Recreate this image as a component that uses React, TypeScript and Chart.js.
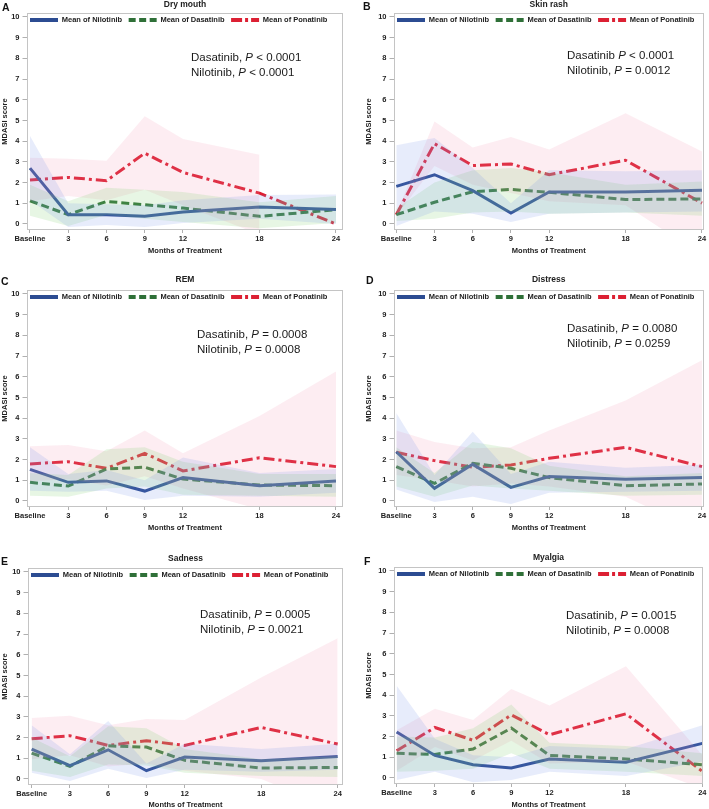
import React, { useEffect, useRef } from 'react';
import { Chart, registerables } from 'chart.js';

Chart.register(...registerables);
Chart.defaults.font.family = '"Liberation Sans", Arial, Helvetica, sans-serif';

// ---------- shared axes / labels ----------
const months = [0, 3, 6, 9, 12, 18, 24];
const xTickLabels = ['Baseline', '3', '6', '9', '12', '18', '24'];
const yTickValues = [0, 1, 2, 3, 4, 5, 6, 7, 8, 9, 10];
const seriesNames = ['Mean of Nilotinib', 'Mean of Dasatinib', 'Mean of Ponatinib'];
const xAxisTitle = 'Months of Treatment';
const yAxisTitle = 'MDASI score';

// ---------- A: Dry mouth ----------
const dryNil = [2.7, 0.45, 0.45, 0.37, 0.58, 0.82, 0.7];
const dryNilUpper = [4.25, 1.0, 0.95, 0.9, 1.15, 1.4, 1.42];
const dryNilLower = [1.15, -0.15, -0.05, -0.15, 0.05, 0.25, 0.0];
const dryDas = [1.12, 0.45, 1.09, 0.93, 0.77, 0.37, 0.69];
const dryDasUpper = [1.9, 1.1, 1.75, 1.65, 1.55, 1.05, 1.35];
const dryDasLower = [0.4, -0.1, 0.45, 0.25, 0.1, -0.2, 0.05];
const dryPon = [2.13, 2.25, 2.09, 3.42, 2.49, 1.49, 0.0];
const dryPonUpper = [3.2, 3.15, 3.05, 5.2, 4.1, 3.35, null];
const dryPonLower = [1.1, 1.35, 1.15, 1.65, 0.9, -0.5, null];

// ---------- B: Skin rash ----------
const skinNil = [1.82, 2.38, 1.61, 0.53, 1.55, 1.55, 1.63];
const skinNilUpper = [3.8, 4.15, 2.7, 1.0, 2.6, 2.55, 2.6];
const skinNilLower = [-0.1, 0.6, 0.5, 0.1, 0.5, 0.55, 0.6];
const skinDas = [0.45, 1.05, 1.56, 1.67, 1.53, 1.18, 1.21];
const skinDasUpper = [0.75, 2.0, 2.6, 2.7, 2.5, 1.9, 2.05];
const skinDasLower = [0.15, 0.25, 0.55, 0.6, 0.5, 0.55, 0.4];
const skinPon = [0.45, 3.88, 2.82, 2.9, 2.38, 3.08, 1.01];
const skinPonUpper = [0.5, 4.95, 3.7, 4.2, 3.6, 5.35, 3.5];
const skinPonLower = [0.4, 2.8, 1.9, 1.5, 1.1, 0.9, -1.5];

// ---------- C: REM ----------
const remNil = [1.53, 0.9, 0.97, 0.48, 1.13, 0.74, 0.97];
const remNilUpper = [2.6, 1.3, 1.5, 1.0, 2.1, 1.35, 1.55];
const remNilLower = [0.5, 0.45, 0.5, 0.05, 0.25, 0.2, 0.4];
const remDas = [0.9, 0.72, 1.55, 1.63, 1.06, 0.77, 0.74];
const remDasUpper = [1.35, 1.25, 2.5, 2.6, 1.9, 1.3, 1.3];
const remDasLower = [0.25, 0.2, 0.6, 0.7, 0.3, 0.25, 0.2];
const remPon = [1.79, 1.9, 1.58, 2.3, 1.45, 2.09, 1.66];
const remPonUpper = [2.65, 2.7, 2.4, 3.4, 2.3, 4.1, 6.25];
const remPonLower = [0.95, 1.05, 0.75, 1.2, 0.6, -0.4, -0.8];

// ---------- D: Distress ----------
const disNil = [2.38, 0.61, 1.77, 0.66, 1.18, 1.05, 1.13];
const disNilUpper = [4.25, 1.25, 3.35, 1.3, 1.9, 1.6, 1.75];
const disNilLower = [0.55, -0.05, 0.2, -0.15, 0.4, 0.45, 0.5];
const disDas = [1.66, 0.85, 1.82, 1.58, 1.13, 0.74, 0.82];
const disDasUpper = [2.6, 1.35, 2.85, 2.55, 1.7, 1.2, 1.35];
const disDasLower = [0.7, 0.2, 0.75, 0.6, 0.5, 0.25, 0.3];
const disPon = [2.35, 1.95, 1.63, 1.74, 2.06, 2.59, 1.66];
const disPonUpper = [3.4, 2.85, 2.55, 2.6, 3.4, 4.85, 6.8];
const disPonLower = [1.25, 1.0, 0.7, 0.85, 0.7, 0.2, -1.5];

// ---------- E: Sadness ----------
const sadNil = [1.44, 0.64, 1.41, 0.4, 1.06, 0.88, 1.09];
const sadNilUpper = [2.6, 1.2, 2.8, 0.75, 1.7, 1.45, 1.7];
const sadNilLower = [0.3, -0.1, 0.5, 0.05, 0.45, 0.35, 0.45];
const sadDas = [1.25, 0.61, 1.6, 1.54, 0.9, 0.53, 0.56];
const sadDasUpper = [2.0, 1.1, 2.55, 2.45, 1.45, 0.95, 1.1];
const sadDasLower = [0.4, 0.1, 0.7, 0.65, 0.3, 0.15, 0.1];
const sadPon = [1.94, 2.09, 1.62, 1.85, 1.62, 2.49, 1.69];
const sadPonUpper = [2.95, 3.05, 2.6, 2.9, 2.85, 4.9, 6.8];
const sadPonLower = [0.95, 1.15, 0.6, 0.75, 0.4, 0.0, -1.5];

// ---------- F: Myalgia ----------
const myaNil = [2.22, 1.09, 0.64, 0.48, 0.92, 0.76, 1.67];
const myaNilUpper = [4.45, 1.9, 1.1, 1.0, 1.55, 1.4, 2.55];
const myaNilLower = [-0.1, 0.3, -0.2, -0.1, 0.3, 0.1, 0.8];
const myaDas = [1.19, 1.14, 1.4, 2.41, 1.09, 0.92, 0.64];
const myaDasUpper = [2.0, 1.95, 2.4, 3.55, 1.7, 1.55, 1.2];
const myaDasLower = [0.3, 0.35, 0.45, 1.2, 0.45, 0.3, 0.1];
const myaPon = [1.32, 2.44, 1.82, 3.05, 2.09, 3.1, 0.32];
const myaPonUpper = [2.3, 3.35, 2.8, 4.3, 3.5, 5.4, 1.1];
const myaPonLower = [0.35, 1.5, 0.85, 1.8, 0.7, 0.8, -0.5];

// ---------- panel texts ----------
const panelLetters = ['A', 'B', 'C', 'D', 'E', 'F'];
const panelTitles = ['Dry mouth', 'Skin rash', 'REM', 'Distress', 'Sadness', 'Myalgia'];
const dasatinibLabels = ['Dasatinib, ', 'Dasatinib ', 'Dasatinib, ', 'Dasatinib, ', 'Dasatinib, ', 'Dasatinib, '];
const dasatinibP = ['< 0.0001', '< 0.0001', '= 0.0008', '= 0.0080', '= 0.0005', '= 0.0015'];
const nilotinibP = ['< 0.0001', '= 0.0012', '= 0.0008', '= 0.0259', '= 0.0021', '= 0.0008'];

const panelData = [
  { nil: dryNil, nilU: dryNilUpper, nilL: dryNilLower, das: dryDas, dasU: dryDasUpper, dasL: dryDasLower, pon: dryPon, ponU: dryPonUpper, ponL: dryPonLower },
  { nil: skinNil, nilU: skinNilUpper, nilL: skinNilLower, das: skinDas, dasU: skinDasUpper, dasL: skinDasLower, pon: skinPon, ponU: skinPonUpper, ponL: skinPonLower },
  { nil: remNil, nilU: remNilUpper, nilL: remNilLower, das: remDas, dasU: remDasUpper, dasL: remDasLower, pon: remPon, ponU: remPonUpper, ponL: remPonLower },
  { nil: disNil, nilU: disNilUpper, nilL: disNilLower, das: disDas, dasU: disDasUpper, dasL: disDasLower, pon: disPon, ponU: disPonUpper, ponL: disPonLower },
  { nil: sadNil, nilU: sadNilUpper, nilL: sadNilLower, das: sadDas, dasU: sadDasUpper, dasL: sadDasLower, pon: sadPon, ponU: sadPonUpper, ponL: sadPonLower },
  { nil: myaNil, nilU: myaNilUpper, nilL: myaNilLower, das: myaDas, dasU: myaDasUpper, dasL: myaDasLower, pon: myaPon, ponU: myaPonUpper, ponL: myaPonLower },
];

// ---------- layout (positions only) ----------
type Layout = {
  x: number; y: number; w: number; h: number;
  yAxisW: number; padR: number; padT: number; titlePadB: number; xAxisH: number; xTitlePadB: number; yTitlePadT: number;
  xMin: number; xMax: number;
  letter: [number, number]; note: [number, number];
};
const layouts: Layout[] = [
  { x: 0, y: 0, w: 354, h: 265, yAxisW: 27, padR: 11, padT: 0.75, titlePadB: 3.75, xAxisH: 35, xTitlePadB: 10.25, yTitlePadT: 1.25, xMin: -0.235, xMax: 24.55, letter: [2, 1], note: [191, 50] },
  { x: 354, y: 0, w: 355, h: 265, yAxisW: 40, padR: 5.5, padT: 0, titlePadB: 4.5, xAxisH: 35, xTitlePadB: 10.25, yTitlePadT: 11.25, xMin: -0.18, xMax: 24.12, letter: [363, 0], note: [567, 48] },
  { x: 0, y: 265, w: 354, h: 270, yAxisW: 27, padR: 11, padT: 10.75, titlePadB: 5.75, xAxisH: 28, xTitlePadB: 3.25, yTitlePadT: 1.25, xMin: -0.235, xMax: 24.55, letter: [1, 275], note: [197, 327] },
  { x: 354, y: 265, w: 355, h: 270, yAxisW: 40, padR: 5.5, padT: 10.75, titlePadB: 5.75, xAxisH: 28, xTitlePadB: 3.25, yTitlePadT: 11.25, xMin: -0.18, xMax: 24.12, letter: [366, 274], note: [567, 321] },
  { x: 0, y: 535, w: 354, h: 274, yAxisW: 28, padR: 11, padT: 19, titlePadB: 5.5, xAxisH: 24, xTitlePadB: 0.25, yTitlePadT: 1.25, xMin: -0.29, xMax: 24.42, letter: [1, 555], note: [200, 607] },
  { x: 354, y: 535, w: 355, h: 274, yAxisW: 40, padR: 6, padT: 18.5, titlePadB: 5, xAxisH: 25, xTitlePadB: 0.25, yTitlePadT: 11.25, xMin: -0.21, xMax: 24.05, letter: [364, 555], note: [566, 608] },
];

// ---------- styles ----------
const FONT = '"Liberation Sans", Arial, Helvetica, sans-serif';
const lineColors = ['#2c4c92', '#2f7038', '#dc2033'];
const bandColors = ['rgba(110,140,230,0.17)', 'rgba(130,205,110,0.19)', 'rgba(245,140,175,0.16)'];
const lineDashes = [[], [8, 4], [11, 4, 3, 4]];
const legendDashes = [[], [7, 3.5], [11, 3, 3, 3]];
const axisGrey = '#b0b0b0';
const textColor = '#222';

const framePlugin = {
  id: 'frameBox',
  afterDraw(chart: any) {
    const { ctx, chartArea: a } = chart;
    ctx.save();
    ctx.strokeStyle = '#c4c4c4';
    ctx.lineWidth = 1;
    ctx.strokeRect(Math.round(a.left) + 0.5, Math.round(a.top) + 0.5, Math.round(a.right - a.left) - 1, Math.round(a.bottom - a.top) - 1);
    ctx.restore();
  },
};

const legendInsidePlugin = {
  id: 'legendInside',
  afterLayout(chart: any) {
    const lg = chart.legend;
    if (!lg) return;
    const a = chart.chartArea;
    lg.left = a.left - 3.5;
    lg.right = a.right + 60;
    lg.top = a.top - 3.25;
    lg.bottom = lg.top + 24;
    lg.width = lg.right - lg.left;
    lg.height = lg.bottom - lg.top;
  },
};

function buildConfig(i: number) {
  const L = layouts[i];
  const d = panelData[i];
  const pts = (vals: (number | null)[]) => months.map((m, k) => ({ x: m, y: vals[k] }));
  const band = (vals: (number | null)[], color: string, upper: boolean) => ({
    label: 'band',
    data: pts(vals),
    borderColor: 'transparent',
    borderWidth: 0,
    backgroundColor: color,
    pointRadius: 0,
    fill: upper ? '+1' : false,
    order: 0,
  });
  const line = (vals: number[], k: number) => ({
    label: seriesNames[k],
    data: pts(vals),
    borderColor: lineColors[k],
    backgroundColor: lineColors[k],
    borderWidth: 3,
    borderDash: lineDashes[k],
    pointRadius: 0,
    fill: false,
    tension: 0,
    order: 10,
  });
  const tickFont = { family: FONT, size: 7.5, weight: 'bold' as const };
  const axisTitleFont = { family: FONT, size: 7.5, weight: 'bold' as const, lineHeight: 1 };
  return {
    type: 'line' as const,
    data: {
      datasets: [
        band(d.nilU, bandColors[0], true),
        band(d.nilL, bandColors[0], false),
        band(d.dasU, bandColors[1], true),
        band(d.dasL, bandColors[1], false),
        band(d.ponU, bandColors[2], true),
        band(d.ponL, bandColors[2], false),
        line(d.nil, 0),
        line(d.das, 1),
        line(d.pon, 2),
      ],
    },
    options: {
      responsive: false,
      animation: false,
      events: [],
      devicePixelRatio: 1,
      layout: { padding: { left: 0, right: L.padR, top: L.padT, bottom: 0 } },
      scales: {
        x: {
          type: 'linear',
          bounds: 'data',
          min: L.xMin,
          max: L.xMax,
          afterBuildTicks: (s: any) => { s.ticks = months.map((v) => ({ value: v })); },
          afterFit: (s: any) => { s.height = L.xAxisH; },
          ticks: {
            autoSkip: false,
            maxRotation: 0,
            minRotation: 0,
            padding: 1,
            color: textColor,
            font: tickFont,
            callback: (v: any, idx: number) => xTickLabels[idx],
          },
          grid: { display: true, drawOnChartArea: false, drawTicks: true, tickLength: 3, tickColor: axisGrey, color: axisGrey },
          border: { display: false },
          title: { display: true, text: xAxisTitle, color: textColor, font: axisTitleFont, padding: { top: 0, bottom: L.xTitlePadB } },
        },
        y: {
          type: 'linear',
          bounds: 'data',
          min: -0.29,
          max: 10.19,
          afterBuildTicks: (s: any) => { s.ticks = yTickValues.map((v) => ({ value: v })); },
          afterFit: (s: any) => { s.width = L.yAxisW; },
          ticks: { padding: 3, color: textColor, font: tickFont, callback: (v: any) => String(v) },
          grid: { display: true, drawOnChartArea: false, drawTicks: true, tickLength: 4.5, tickColor: axisGrey, color: axisGrey },
          border: { display: false },
          title: { display: true, text: yAxisTitle, color: textColor, font: axisTitleFont, padding: { top: L.yTitlePadT, bottom: 0 } },
        },
      },
      plugins: {
        tooltip: { enabled: false },
        filler: { propagate: false, drawTime: 'beforeDatasetDraw' },
        title: {
          display: true,
          text: panelTitles[i],
          fullSize: false,
          color: textColor,
          font: { family: FONT, size: 8.5, weight: 'bold', lineHeight: 1 },
          padding: { top: 0, bottom: L.titlePadB },
        },
        legend: {
          display: true,
          position: 'top',
          align: 'start',
          fullSize: false,
          maxHeight: 0.01,
          labels: {
            usePointStyle: true,
            pointStyleWidth: 28,
            boxHeight: 7.5,
            padding: 6.5,
            color: textColor,
            font: { family: FONT, size: 7.5, weight: 'bold' },
            generateLabels: () =>
              seriesNames.map((name, k) => ({
                text: name,
                fillStyle: lineColors[k],
                strokeStyle: lineColors[k],
                lineWidth: 4,
                lineDash: legendDashes[k],
                lineCap: 'butt',
                pointStyle: 'line',
                hidden: false,
                datasetIndex: 6 + k,
                fontColor: textColor,
              })),
          },
        },
      },
    },
    plugins: [framePlugin, legendInsidePlugin],
  };
}

function Panel({ index }: { index: number }) {
  const ref = useRef<HTMLCanvasElement>(null);
  const L = layouts[index];
  useEffect(() => {
    const chart = new Chart(ref.current as HTMLCanvasElement, buildConfig(index) as any);
    return () => chart.destroy();
  }, [index]);
  return (
    <canvas
      ref={ref}
      width={L.w}
      height={L.h}
      style={{ position: 'absolute', left: L.x, top: L.y, width: L.w, height: L.h }}
    />
  );
}

export default function App() {
  return (
    <div
      style={{
        position: 'absolute',
        left: 0,
        top: 0,
        width: 709,
        height: 809,
        background: '#fff',
        overflow: 'hidden',
        fontFamily: FONT,
      }}
    >
      {layouts.map((L, i) => (
        <React.Fragment key={i}>
          <Panel index={i} />
          <div
            style={{
              position: 'absolute',
              left: L.letter[0],
              top: L.letter[1],
              fontSize: 10.5,
              lineHeight: '12px',
              fontWeight: 'bold',
              color: '#111',
            }}
          >
            {panelLetters[i]}
          </div>
          <div
            style={{
              position: 'absolute',
              left: L.note[0],
              top: L.note[1],
              fontSize: 11.5,
              lineHeight: '14.5px',
              color: '#1a1a1a',
              whiteSpace: 'nowrap',
            }}
          >
            <div>
              {dasatinibLabels[i]}
              <i>P</i> {dasatinibP[i]}
            </div>
            <div>
              Nilotinib, <i>P</i> {nilotinibP[i]}
            </div>
          </div>
        </React.Fragment>
      ))}
    </div>
  );
}
